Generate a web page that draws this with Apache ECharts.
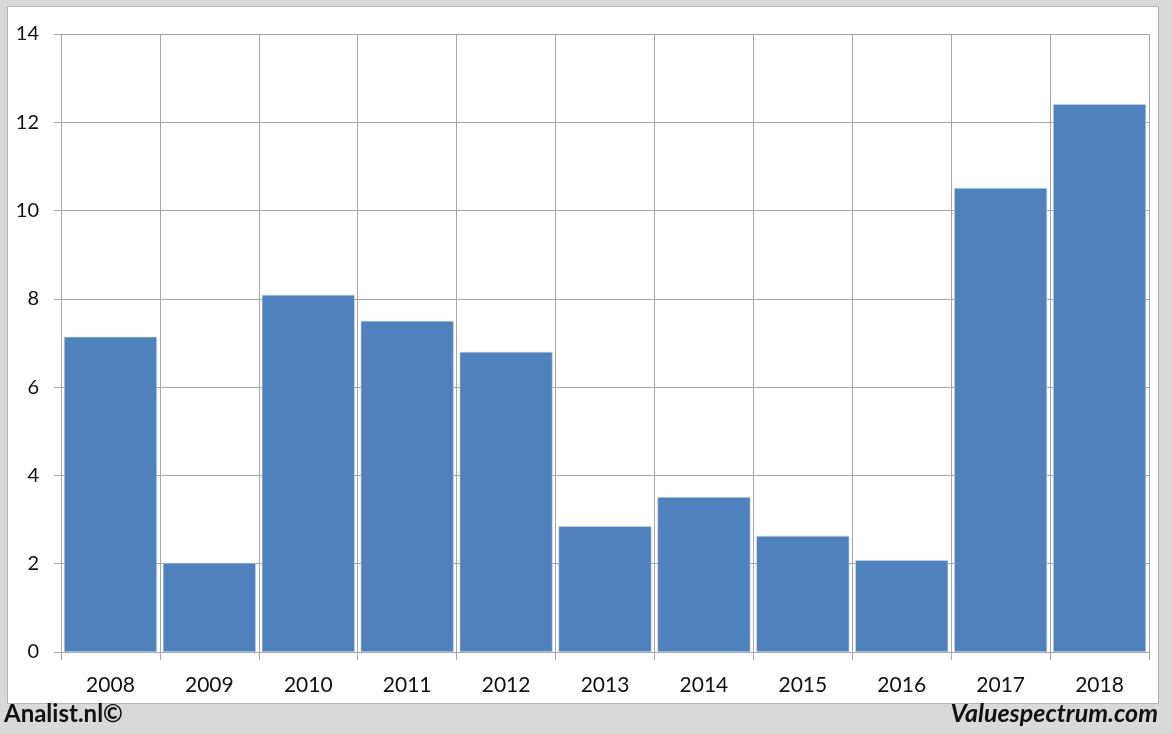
<!DOCTYPE html>
<html><head><meta charset="utf-8">
<script src="https://cdn.jsdelivr.net/npm/echarts@6/dist/echarts.min.js"></script>
<style>html,body{margin:0;padding:0;background:#d9d9d9;}#c{width:1172px;height:734px;}</style>
</head><body><div id="c"></div>
<script>
const categories = ['2008','2009','2010','2011','2012','2013','2014','2015','2016','2017','2018'];
const values = [7.14, 2.02, 8.09, 7.50, 6.80, 2.85, 3.51, 2.63, 2.08, 10.51, 12.41];
const yTicks = {min: 0, max: 14, interval: 2};

const chart = echarts.init(document.getElementById('c'));
const font = 'Lato, "Open Sans", sans-serif';
chart.setOption({
  backgroundColor: '#d9d9d9',
  animation: false,
  graphic: [
    {type: 'rect', shape: {x: 7.5, y: 6.5, width: 1151, height: 697}, style: {fill: '#ffffff', stroke: '#b4b4b4', lineWidth: 1}, z: -10},
    {type: 'text', left: 4, top: 702, style: {text: 'Analist.nl©', font: 'bold 24px ' + font, fill: '#111'}},
    {type: 'text', right: 14, top: 701, style: {text: 'Valuespectrum.com', font: 'italic bold 25px ' + font, fill: '#111'}}
  ],
  grid: {left: 61, right: 23, top: 34, bottom: 82, containLabel: false},
  xAxis: {
    type: 'category', data: categories, boundaryGap: true,
    axisLine: {show: true, lineStyle: {color: '#a6a6a6'}},
    axisTick: {show: true, alignWithLabel: false, length: 8, lineStyle: {color: '#a6a6a6'}},
    splitLine: {show: true, lineStyle: {color: '#a6a6a6', width: 1}},
    axisLabel: {color: '#111', fontSize: 21, fontFamily: font, margin: 23}
  },
  yAxis: {
    type: 'value', min: yTicks.min, max: yTicks.max, interval: yTicks.interval,
    axisLine: {show: true, lineStyle: {color: '#a6a6a6'}},
    axisTick: {show: true, length: 7, lineStyle: {color: '#a6a6a6'}},
    splitLine: {show: true, lineStyle: {color: '#a6a6a6', width: 1}},
    axisLabel: {color: '#111', fontSize: 20, fontFamily: font, margin: 22}
  },
  series: [{
    type: 'bar', data: values, barCategoryGap: '6%',
    itemStyle: {color: '#4f81bd', borderColor: '#c9d7ea', borderWidth: 0.6}
  }]
});
</script></body></html>
